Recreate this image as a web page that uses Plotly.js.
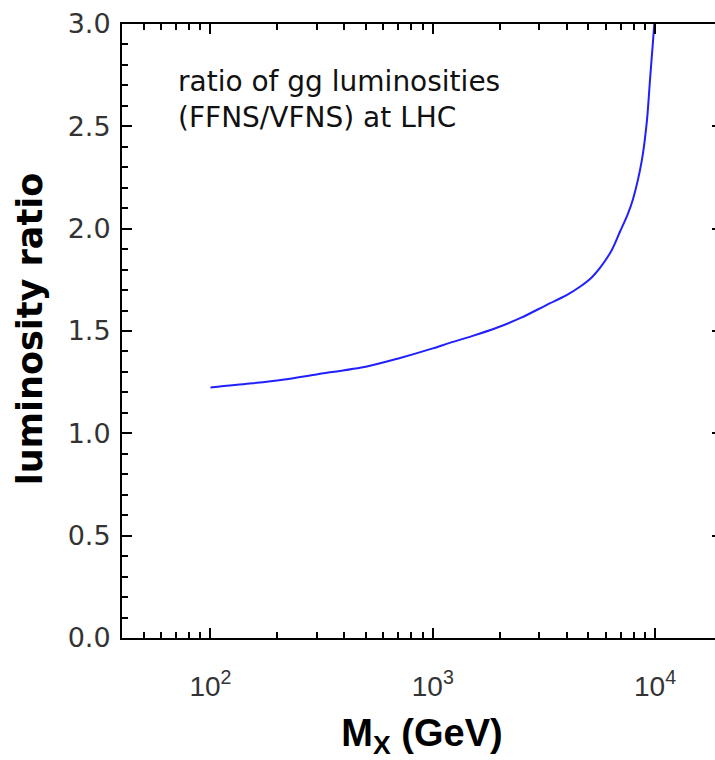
<!DOCTYPE html>
<html>
<head>
<meta charset="utf-8">
<script src="https://cdn.plot.ly/plotly-3.0.1.min.js"></script>
<style>
html,body{margin:0;padding:0;background:#fff;overflow:hidden;}
#chart{width:730px;height:760px;}
</style>
</head>
<body>
<div id="chart"></div>
<script>
// Data
const massGeV = [100, 150, 211, 300, 505, 700, 1000, 1200, 1500, 1940, 2500, 3260, 4000, 4590, 5200, 5650, 6400, 6950, 7500, 7960, 8730, 9200, 9490, 9800, 10000];
const lumiRatio = [1.224, 1.243, 1.262, 1.288, 1.327, 1.366, 1.415, 1.443, 1.475, 1.516, 1.565, 1.628, 1.675, 1.716, 1.763, 1.808, 1.897, 1.985, 2.065, 2.145, 2.337, 2.533, 2.729, 2.924, 3.05];
const xMajorVals = [100, 1000, 10000];
const xMajorText = ['10<sup>2</sup>', '10<sup>3</sup>', '10<sup>4</sup>'];
const xMinorVals = [40, 50, 60, 70, 80, 90, 200, 300, 400, 500, 600, 700, 800, 900, 2000, 3000, 4000, 5000, 6000, 7000, 8000, 9000, 20000];
const yTickVals = [0, 0.5, 1.0, 1.5, 2.0, 2.5, 3.0];
const yTickText = ['0.0', '0.5', '1.0', '1.5', '2.0', '2.5', '3.0'];
const noteLines = ['ratio of gg luminosities', '(FFNS/VFNS) at LHC'];
const yTitle = 'luminosity ratio';

const SANS = 'Liberation Sans, Arial, Helvetica, sans-serif';
const WIDE = 'DejaVu Sans, Verdana, sans-serif';

const trace = {
  x: massGeV, y: lumiRatio, type: 'scatter', mode: 'lines',
  line: {color: '#2020ff', width: 2, shape: 'spline', smoothing: 0.8},
  hoverinfo: 'skip'
};

const layout = {
  width: 730, height: 760,
  margin: {l: 122, r: 8, t: 24, b: 122},
  paper_bgcolor: '#fff', plot_bgcolor: '#fff',
  showlegend: false,
  font: {family: SANS, color: '#000'},
  xaxis: {
    type: 'log',
    range: [Math.log10(40), Math.log10(20000)],
    tickmode: 'array', tickvals: xMajorVals, ticktext: xMajorText,
    ticks: 'inside', ticklen: 10, tickwidth: 2, tickcolor: '#000',
    showline: true, linecolor: '#000', linewidth: 2, mirror: 'allticks',
    showgrid: false, zeroline: false,
    tickfont: {family: SANS, size: 28, color: '#333'},
    ticklabelstandoff: 22,
    minor: {tickvals: xMinorVals, ticks: 'inside', ticklen: 6, tickwidth: 2, tickcolor: '#000', showgrid: false},
    title: {text: '<b>M<sub>X</sub> (GeV)</b>', font: {family: SANS, size: 38, color: '#000'}, standoff: 20}
  },
  yaxis: {
    range: [0, 3],
    tickmode: 'array', tickvals: yTickVals, ticktext: yTickText,
    ticks: 'inside', ticklen: 10, tickwidth: 2, tickcolor: '#000',
    showline: true, linecolor: '#000', linewidth: 2, mirror: 'allticks',
    showgrid: false, zeroline: false,
    tickfont: {family: WIDE, size: 27, color: '#333'},
    ticklabelstandoff: 4,
    minor: {dtick: 0.1, ticks: 'inside', ticklen: 6, tickwidth: 2, tickcolor: '#000', showgrid: false}
  },
  annotations: [{
    xref: 'paper', yref: 'paper', x: 0.09, y: 0.937,
    xanchor: 'left', yanchor: 'top', align: 'left', showarrow: false,
    text: noteLines.join('<br>'),
    font: {family: WIDE, size: 28, color: '#111'}
  }, {
    xref: 'paper', yref: 'paper', x: -0.153, y: 0.503,
    xanchor: 'center', yanchor: 'middle', textangle: -90, showarrow: false,
    text: '<b>' + yTitle + '</b>',
    font: {family: WIDE, size: 35, color: '#000'}
  }]
};

Plotly.newPlot('chart', [trace], layout, {staticPlot: true, displayModeBar: false});
</script>
</body>
</html>
